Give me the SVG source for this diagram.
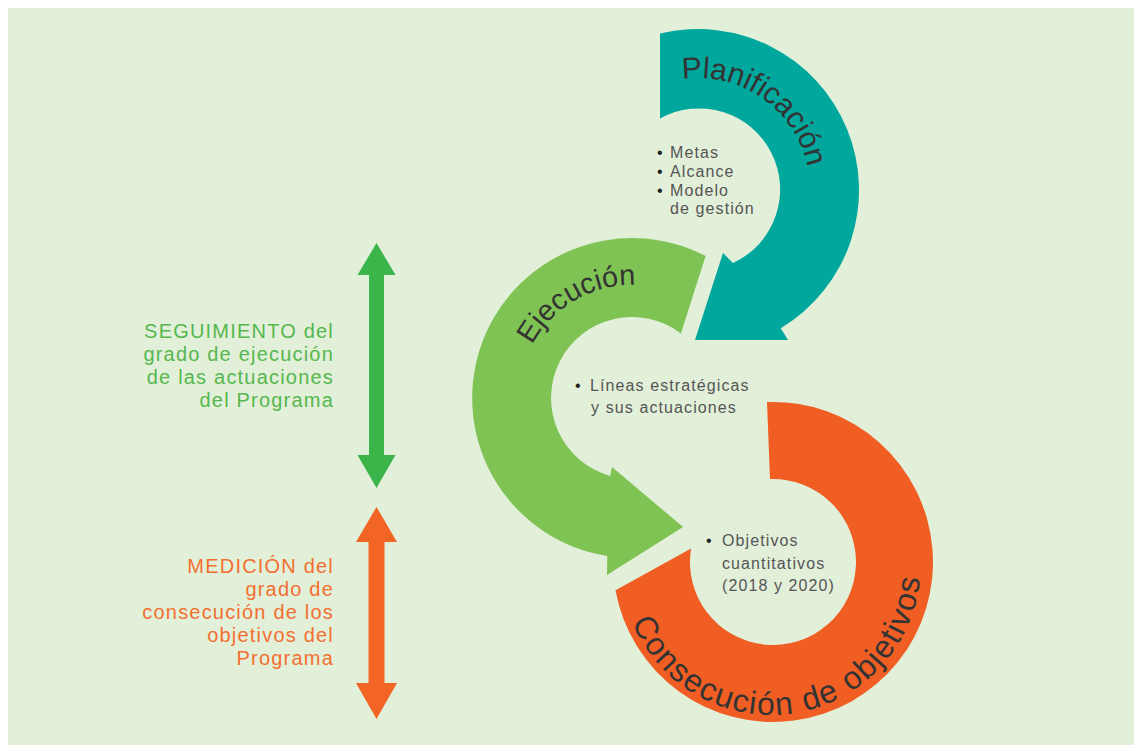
<svg xmlns="http://www.w3.org/2000/svg" width="1134" height="745" viewBox="0 0 1134 745">
  <style>
    .ring-label { font-family: "Liberation Sans", Arial, sans-serif; fill: #333333; }
    .inner { font-family: "Liberation Sans", Arial, sans-serif; font-size: 16px; letter-spacing: 1.1px; fill: #555555; }
    .bullet { fill: #222222; }
    .side { font-family: "Liberation Sans", Arial, sans-serif; font-size: 20px; letter-spacing: 1.2px; text-anchor: end; }
    .side-green { fill: #55b84e; }
    .side-orange { fill: #f36f30; }
  </style>
  <defs>
    <path id="pPlan" d="M682.4,79.1 A112,112 0 0 1 808.3,209.4"/>
    <path id="pEjec" d="M532.2,344.9 A113,113 0 0 1 688.5,300.1"/>
    <path id="pCons" d="M632,622 A150,150 0 0 0 917.7,535"/>
  </defs>

  <rect x="8" y="8" width="1126" height="737" fill="#e2efd9"/>

  <g id="planificacion">
    <path d="M660,33.6 A161,161 0 0 1 780.7,328.2 L788,340 L695,340 L723,253 L733,263 A81,81 0 1 0 660,118.5 Z" fill="#00a79d"/>
    <text class="ring-label" font-size="30"><textPath href="#pPlan">Planificación</textPath></text>
    <text class="inner" y="158"><tspan class="bullet" x="657">•</tspan><tspan x="670">Metas</tspan></text>
    <text class="inner" y="177"><tspan class="bullet" x="657">•</tspan><tspan x="670">Alcance</tspan></text>
    <text class="inner" y="196"><tspan class="bullet" x="657">•</tspan><tspan x="670">Modelo</tspan></text>
    <text class="inner" x="670" y="214">de gestión</text>
  </g>

  <g id="ejecucion">
    <path d="M705.6,255.9 A160,160 0 1 0 607.2,556.1 L607,575 L683,527 L612,467 L610.2,476 A81,81 0 1 1 680.9,333.4 Z" fill="#80c355"/>
    <text class="ring-label" font-size="29"><textPath href="#pEjec">Ejecución</textPath></text>
    <text class="inner" y="391"><tspan class="bullet" x="575">•</tspan><tspan x="590">Líneas estratégicas</tspan></text>
    <text class="inner" x="591" y="413">y sus actuaciones</text>
  </g>

  <g id="consecucion">
    <path d="M767,402.1 A160,160 0 1 1 615.5,590.3 L691.1,548.5 A83,83 0 1 0 770,479.1 Z" fill="#f15e24"/>
    <text class="ring-label" font-size="32" letter-spacing="1.5"><textPath href="#pCons">Consecución de objetivos</textPath></text>
    <text class="inner" y="546"><tspan class="bullet" x="706">•</tspan><tspan x="722">Objetivos</tspan></text>
    <text class="inner" x="722" y="569">cuantitativos</text>
    <text class="inner" x="722" y="591">(2018 y 2020)</text>
  </g>

  <g id="seguimiento">
    <text class="side side-green" x="334" y="338">SEGUIMIENTO del</text>
    <text class="side side-green" x="334" y="361">grado de ejecución</text>
    <text class="side side-green" x="334" y="384">de las actuaciones</text>
    <text class="side side-green" x="334" y="407">del Programa</text>
  </g>

  <g id="medicion">
    <text class="side side-orange" x="334" y="573">MEDICIÓN del</text>
    <text class="side side-orange" x="334" y="596">grado de</text>
    <text class="side side-orange" x="334" y="619">consecución de los</text>
    <text class="side side-orange" x="334" y="642">objetivos del</text>
    <text class="side side-orange" x="334" y="665">Programa</text>
  </g>

  <g id="connectors">
    <polygon points="376.5,243 395.5,275 384,275 384,455 395.5,455 376.5,488 357.5,455 369,455 369,275 357.5,275" fill="#3bb44a"/>
    <polygon points="376.5,507 397,542 384.5,542 384.5,683 397,683 376.5,719 356,683 368.5,683 368.5,542 356,542" fill="#f26524"/>
  </g>
</svg>
